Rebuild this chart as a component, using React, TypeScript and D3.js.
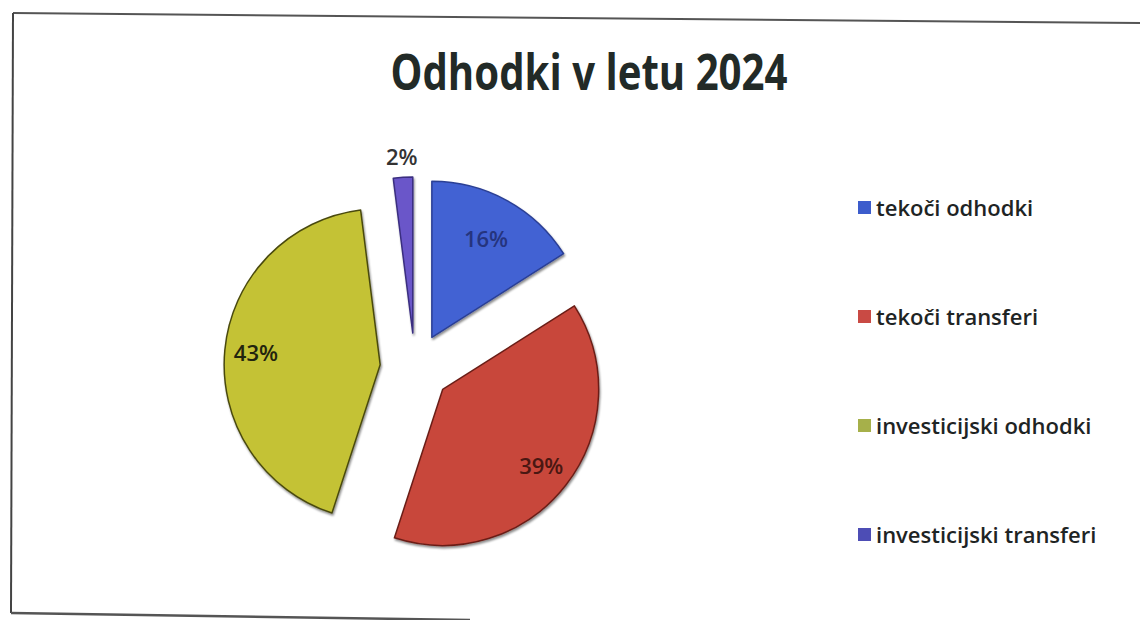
import React from "react";
import * as d3 from "d3";

const title = "Odhodki v letu 2024";
const categories = ["tekoči odhodki", "tekoči transferi", "investicijski odhodki", "investicijski transferi"];
const shares = [16, 39, 43, 2];
const labels = ["16%", "39%", "43%", "2%"];
const fills = ["#4262d3", "#c8463b", "#c4c234", "#6a57c9"];
const strokes = ["#2a3f95", "#6b1f18", "#4a4a10", "#3a2e80"];
const labelColors = ["#25347e", "#4a1712", "#22240e", "#333333"];
const legendSwatch = ["#3c5ccc", "#c94a44", "#a6b04a", "#4d4db5"];

const W = 1140;
const H = 620;
const cx = 415;
const cy = 368;
const radius = 156;
const explode = 35;

export default function App() {
  const pie = d3.pie<number>().sort(null).value((d) => d).startAngle(0).endAngle(2 * Math.PI);
  const arcs = pie(shares);
  const arcGen = d3.arc<d3.PieArcDatum<number>>().innerRadius(0).outerRadius(radius);
  const labelRadii = [0.72, 0.8, 0.8, 1.13];

  const legendY = d3.scalePoint<string>().domain(categories).range([216, 543]);

  return (
    <svg
      width={W}
      height={H}
      style={{ position: "absolute", left: 0, top: 0, background: "#fff" }}
      fontFamily="'Open Sans', 'Noto Sans', sans-serif"
    >
      <defs>
        <filter id="sh" x="-20%" y="-20%" width="140%" height="140%">
          <feDropShadow dx="1" dy="2" stdDeviation="1" floodColor="#000" floodOpacity="0.45" />
        </filter>
      </defs>
      <rect x={0} y={0} width={W} height={H} fill="#fff" />
      {/* frame (scanned, slightly tilted) */}
      <line x1={13} y1={13} x2={1140} y2={23} stroke="#555" strokeWidth={2} />
      <line x1={13} y1={13} x2={11} y2={613} stroke="#444" strokeWidth={2} />
      <line x1={11} y1={613} x2={470} y2={620} stroke="#555" strokeWidth={2.5} />

      <text
        x={589}
        y={90}
        textAnchor="middle"
        fontSize={51}
        fontWeight={700}
        fill="#222a27"
        textLength={397}
        lengthAdjust="spacingAndGlyphs"
      >
        {title}
      </text>

      {arcs.map((a, i) => {
        const mid = (a.startAngle + a.endAngle) / 2;
        const ox = cx + explode * Math.sin(mid);
        const oy = cy - explode * Math.cos(mid);
        const lr = radius * labelRadii[i];
        const lx = ox + lr * Math.sin(mid);
        const ly = oy - lr * Math.cos(mid);
        return (
          <g key={categories[i]}>
            <path
              d={arcGen(a) || ""}
              transform={`translate(${ox},${oy})`}
              fill={fills[i]}
              stroke={strokes[i]}
              strokeWidth={1.5}
              strokeLinejoin="round"
              filter="url(#sh)"
            />
            <text
              x={lx}
              y={ly}
              dy="0.35em"
              textAnchor="middle"
              fontSize={22}
              fontWeight={600}
              fill={labelColors[i]}
            >
              {labels[i]}
            </text>
          </g>
        );
      })}

      {categories.map((c, i) => {
        const y = legendY(c) as number;
        return (
          <g key={c}>
            <rect x={858} y={y - 15} width={13} height={13} fill={legendSwatch[i]} />
            <text x={876} y={y} fontSize={22} fontWeight={600} fill="#1e2424">
              {c}
            </text>
          </g>
        );
      })}
    </svg>
  );
}
